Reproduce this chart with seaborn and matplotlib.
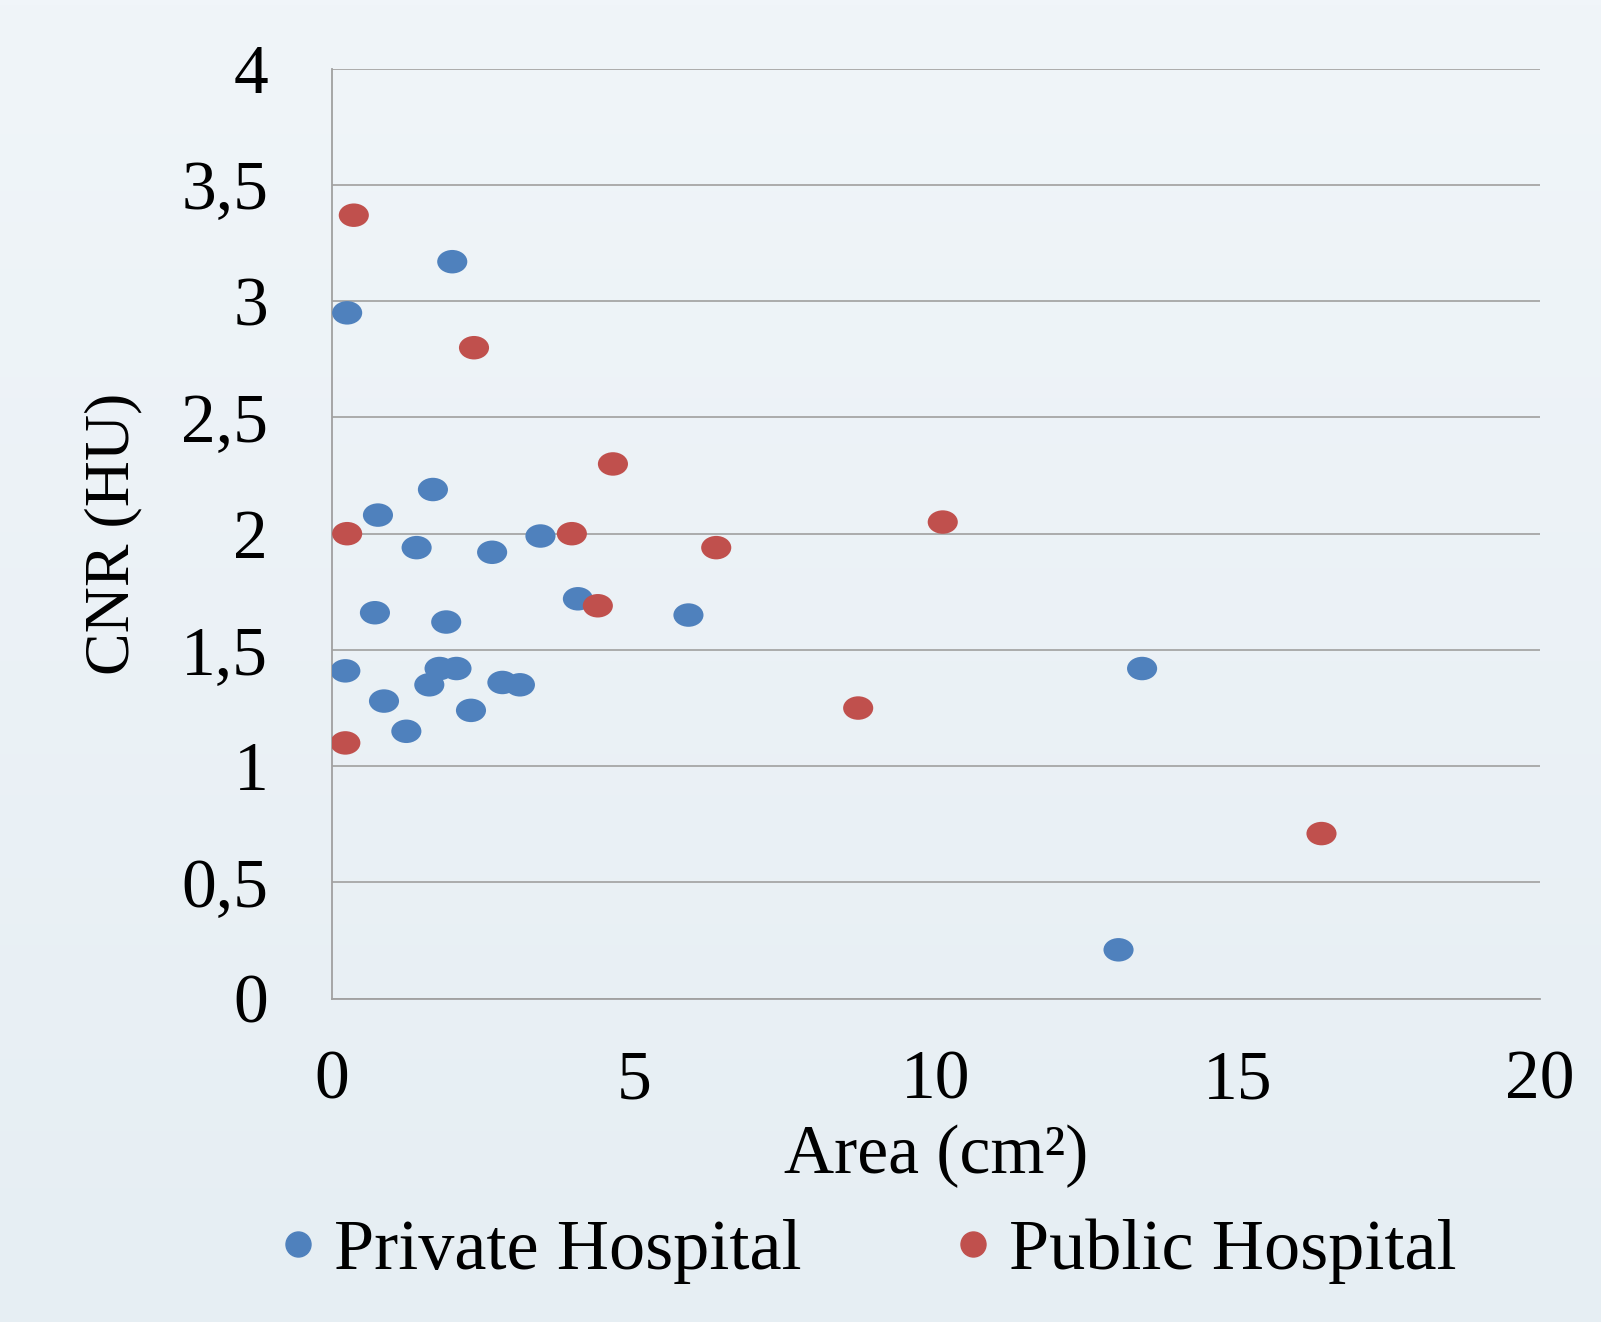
import numpy as np
import pandas as pd
import matplotlib
matplotlib.use('Agg')
import matplotlib.pyplot as plt
from matplotlib.path import Path
import seaborn as sns

# Valeurs
private_area = [1.99, 0.25, 1.67, 0.76, 1.40, 2.65, 3.45, 4.07, 5.90, 0.71, 1.89,
                0.22, 1.78, 2.06, 1.61, 2.82, 3.11, 0.86, 2.30, 1.23, 13.41, 13.02]
private_cnr = [3.17, 2.95, 2.19, 2.08, 1.94, 1.92, 1.99, 1.72, 1.65, 1.66, 1.62,
               1.41, 1.42, 1.42, 1.35, 1.36, 1.35, 1.28, 1.24, 1.15, 1.42, 0.21]
public_area = [0.36, 2.35, 4.65, 0.25, 3.97, 6.36, 10.11, 4.40, 8.71, 0.22, 16.38]
public_cnr = [3.37, 2.80, 2.30, 2.00, 2.00, 1.94, 2.05, 1.69, 1.25, 1.10, 0.71]

groups = ['Private Hospital', 'Public Hospital']
colors = ['#4F81BD', '#C0504D']
x_ticks = [0, 5, 10, 15, 20]
y_ticks = [0, 0.5, 1, 1.5, 2, 2.5, 3, 3.5, 4]
y_labels = ['0', '0,5', '1', '1,5', '2', '2,5', '3', '3,5', '4']

df = pd.DataFrame({
    'Area': private_area + public_area,
    'CNR': private_cnr + public_cnr,
    'Group': [groups[0]] * len(private_area) + [groups[1]] * len(public_area),
})

sns.set_style('white')
plt.rcParams['font.family'] = ['Liberation Serif', 'DejaVu Serif']
plt.rcParams['text.color'] = 'black'
plt.rcParams['axes.labelcolor'] = 'black'
plt.rcParams['xtick.color'] = 'black'
plt.rcParams['ytick.color'] = 'black'

fig = plt.figure(figsize=(16.01, 13.22), dpi=100)

# fond dégradé
bg = fig.add_axes([0, 0, 1, 1], zorder=-10)
grad = np.linspace(0, 1, 256).reshape(-1, 1)
cmap = matplotlib.colors.LinearSegmentedColormap.from_list('bg', ['#F0F5F9', '#E6EEF3'])
bg.imshow(grad, aspect='auto', cmap=cmap, extent=[0, 1, 0, 1])
bg.axis('off')

ax = fig.add_axes([0.2074, 0.2446, 0.7546, 0.7034])
ax.patch.set_alpha(0)

# marqueur ellipse
circ = Path.unit_circle()
ellipse = Path(circ.vertices * np.array([1.0, 0.78]), circ.codes)

sns.scatterplot(data=df, x='Area', y='CNR', hue='Group', palette=colors,
                marker=ellipse, s=470, linewidth=0, ax=ax, legend=False, zorder=3)

ax.set_xlim(0, 20)
ax.set_ylim(0, 4)
ax.set_xticks(x_ticks)
ax.set_xticklabels([str(t) for t in x_ticks])
ax.set_yticks(y_ticks)
ax.set_yticklabels(y_labels)
ax.tick_params(axis='both', length=0, labelsize=50)
ax.tick_params(axis='x', pad=37)
ax.tick_params(axis='y', pad=46)

ax.grid(axis='y', color='#A6A6A6', linewidth=1.3)
ax.grid(axis='x', visible=False)
for side in ['top', 'right']:
    ax.spines[side].set_visible(False)
for side in ['left', 'bottom']:
    ax.spines[side].set_color('#A0A0A0')
    ax.spines[side].set_linewidth(1.3)

ax.set_xlabel('Area (cm²)', fontsize=50, labelpad=8)
ax.set_ylabel('CNR (HU)', fontsize=46, labelpad=28)

handles = [plt.Line2D([], [], marker='o', linestyle='', color=c, markersize=18) for c in colors]
fig.legend(handles, groups, loc='center', bbox_to_anchor=(0.539, 0.0535), ncol=2,
           frameon=False, fontsize=52, handletextpad=0.1, columnspacing=1.97,
           handlelength=0.8)

fig.savefig('out.png', dpi=100)
